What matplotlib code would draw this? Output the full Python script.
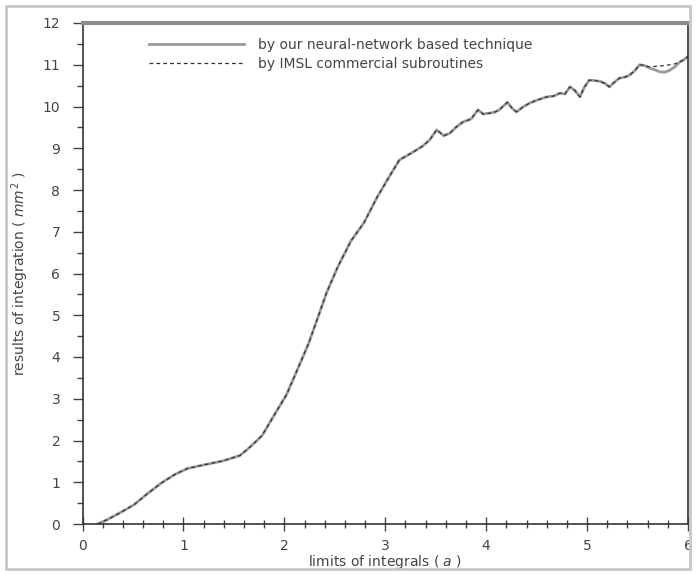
import matplotlib
matplotlib.use("Agg")
import matplotlib.pyplot as plt
from matplotlib.patches import Rectangle
from matplotlib.ticker import MultipleLocator

plt.rcParams['font.family'] = ['DejaVu Sans']

# curve: neural-network result
nn_x = [0.15, 0.25, 0.38, 0.51, 0.64, 0.78, 0.91, 1.04, 1.21, 1.39,
        1.56, 1.65, 1.78, 1.91, 2.02, 2.13, 2.24, 2.33, 2.42, 2.53,
        2.66, 2.79, 2.92, 3.04, 3.14, 3.27, 3.37, 3.44, 3.51, 3.58,
        3.64, 3.70, 3.77, 3.85, 3.92, 3.97, 4.03, 4.08, 4.13, 4.21,
        4.26, 4.30, 4.36, 4.43, 4.50, 4.60, 4.67, 4.73, 4.78, 4.83,
        4.88, 4.93, 4.97, 5.02, 5.08, 5.13, 5.18, 5.22, 5.27, 5.32,
        5.37, 5.42, 5.47, 5.52, 5.57, 5.62, 5.67, 5.72, 5.77, 5.82,
        5.87, 5.92, 5.96, 6.0]
nn_y = [0.0, 0.11, 0.28, 0.46, 0.72, 0.98, 1.18, 1.33, 1.42, 1.51,
        1.64, 1.82, 2.12, 2.65, 3.09, 3.70, 4.32, 4.93, 5.55, 6.16,
        6.78, 7.22, 7.83, 8.32, 8.72, 8.90, 9.05, 9.20, 9.44, 9.30,
        9.36, 9.50, 9.63, 9.70, 9.92, 9.82, 9.84, 9.86, 9.92, 10.10,
        9.95, 9.87, 9.98, 10.08, 10.15, 10.23, 10.25, 10.32, 10.30, 10.47,
        10.38, 10.23, 10.45, 10.63, 10.62, 10.60, 10.55, 10.47, 10.58, 10.68,
        10.70, 10.75, 10.85, 11.00, 10.98, 10.92, 10.88, 10.83, 10.82, 10.87,
        10.95, 11.07, 11.12, 11.20]

# IMSL result, same points, differs a little near the right end
imsl_x = nn_x
imsl_y = [0.0, 0.11, 0.28, 0.46, 0.72, 0.98, 1.18, 1.33, 1.42, 1.51,
          1.64, 1.82, 2.12, 2.65, 3.09, 3.70, 4.32, 4.93, 5.55, 6.16,
          6.78, 7.22, 7.83, 8.32, 8.72, 8.90, 9.05, 9.20, 9.44, 9.30,
          9.36, 9.50, 9.63, 9.70, 9.92, 9.82, 9.84, 9.86, 9.92, 10.10,
          9.95, 9.87, 9.98, 10.08, 10.15, 10.23, 10.25, 10.32, 10.30, 10.47,
          10.38, 10.23, 10.45, 10.63, 10.62, 10.60, 10.55, 10.47, 10.58, 10.68,
          10.70, 10.75, 10.85, 11.00, 10.98, 10.95, 10.96, 10.97, 10.98, 11.00,
          11.02, 11.07, 11.12, 11.20]

x_ticks = [0, 1, 2, 3, 4, 5, 6]
y_ticks = [0, 1, 2, 3, 4, 5, 6, 7, 8, 9, 10, 11, 12]

fig = plt.figure(figsize=(6.96, 5.74), dpi=100)
fig.patches.append(Rectangle((6 / 696, 5 / 574), 684 / 696, 563 / 574,
                             transform=fig.transFigure, fill=False,
                             edgecolor='#c8c8c8', linewidth=2))
ax = fig.add_axes([82.5 / 696, 50 / 574, 605.5 / 696, 501 / 574])

ax.plot(nn_x, nn_y, color='#9a9a9a', linewidth=2.0,
        label='by our neural-network based technique')
ax.plot(imsl_x, imsl_y, color='#333333', linewidth=0.9, dashes=(3, 2.5),
        label='by IMSL commercial subroutines')

ax.set_xlim(0, 6)
ax.set_ylim(0, 12)
ax.set_xticks(x_ticks)
ax.set_yticks(y_ticks)
ax.xaxis.set_minor_locator(MultipleLocator(0.2))
ax.yaxis.set_minor_locator(MultipleLocator(0.5))
ax.tick_params(axis='x', which='major', direction='inout', length=10, width=1,
               pad=6, labelsize=10, colors='#444444')
ax.tick_params(axis='x', which='minor', direction='inout', length=6, width=1,
               colors='#444444')
ax.tick_params(axis='y', which='major', direction='out', length=7, width=1,
               pad=9, labelsize=10, colors='#444444')
ax.tick_params(axis='y', which='minor', direction='out', length=4, width=1,
               colors='#444444')

for side in ['left', 'bottom', 'right']:
    ax.spines[side].set_color('#333333')
    ax.spines[side].set_linewidth(1.2)
ax.spines['top'].set_color('#8c8c8c')
ax.spines['top'].set_linewidth(3)

ax.set_xlabel('limits of integrals ( $a$ )', fontsize=10, color='#444444',
              labelpad=0)
ax.set_ylabel('results of integration ( $mm^2$ )', fontsize=10,
              color='#444444')
ax.yaxis.set_label_coords(-0.085, 0.5)

ax.legend(loc='upper left', bbox_to_anchor=(0.09, 0.995), frameon=False,
          fontsize=10, handlelength=6.8, handletextpad=1.0,
          labelspacing=0.35, labelcolor='#444444')

fig.savefig('out.png', dpi=100)
